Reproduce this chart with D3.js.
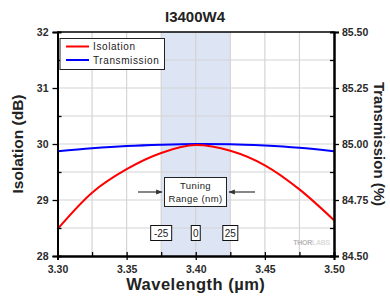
<!DOCTYPE html>
<html><head><meta charset="utf-8">
<script src="https://cdn.jsdelivr.net/npm/d3@7"></script>
<style>body{margin:0;background:#fff}svg{display:block;font-family:Arial,"Liberation Sans",sans-serif}</style>
</head><body><svg id="c" width="390" height="296"></svg>
<script>
const title = "I3400W4";
const wavelengths = [3.300,3.325,3.350,3.375,3.400,3.425,3.450,3.475,3.500];
const isolation =   [28.48,29.13,29.55,29.84,29.98,29.88,29.62,29.19,28.64];
const transmission =[84.968,84.981,84.991,84.997,85.000,84.999,84.993,84.983,84.968];
const xTicks = [3.30,3.35,3.40,3.45,3.50];
const yTicks = [28,29,30,31,32];
const y2Ticks = [84.50,84.75,85.00,85.25,85.50];
const tuningRange = [3.375,3.425];
const tuningLabels = ["-25","0","25"];
const seriesNames = ["Isolation","Transmission"];
const colors = ["#ff0000","#0000ff"];

const svg = d3.select("#c");
const L=57.5,R=334,T=32,B=256;
const x = d3.scaleLinear().domain([3.30,3.50]).range([L,R]);
const y = d3.scaleLinear().domain([28,32]).range([B,T]);
const y2 = d3.scaleLinear().domain([84.5,85.5]).range([B,T]);

svg.append("rect").attr("x",x(tuningRange[0])).attr("y",T).attr("width",x(tuningRange[1])-x(tuningRange[0])).attr("height",B-T).attr("fill","#dde4f4");

const gx = d3.range(3.325,3.5,0.025);
svg.append("g").selectAll("line").data(gx).join("line")
 .attr("x1",d=>x(d)).attr("x2",d=>x(d)).attr("y1",T).attr("y2",B).attr("stroke","#d4d4d4").attr("stroke-width",1.2);
const gy = d3.range(28.5,32,0.5);
svg.append("g").selectAll("line").data(gy).join("line")
 .attr("y1",d=>y(d)).attr("y2",d=>y(d)).attr("x1",L).attr("x2",R).attr("stroke","#d4d4d4").attr("stroke-width",1.2);

const wm = svg.append("text").attr("x",x(3.497)).attr("y",y(28.2)).attr("text-anchor","end").attr("font-size",7).attr("font-weight","bold").attr("letter-spacing","-0.3");
wm.append("tspan").attr("fill","#b8b8b8").text("THOR");
wm.append("tspan").attr("fill","#dcdcdc").text("LABS");

const line1 = d3.line().x((d,i)=>x(wavelengths[i])).y(d=>y(d)).curve(d3.curveMonotoneX);
const line2 = d3.line().x((d,i)=>x(wavelengths[i])).y(d=>y2(d)).curve(d3.curveMonotoneX);
svg.append("path").attr("d",line2(transmission)).attr("fill","none").attr("stroke",colors[1]).attr("stroke-width",2);
svg.append("path").attr("d",line1(isolation)).attr("fill","none").attr("stroke",colors[0]).attr("stroke-width",2);

svg.append("line").attr("x1",L).attr("x2",R).attr("y1",T).attr("y2",T).attr("stroke","#000").attr("stroke-width",1.5);
const tc="#2a2a2a";
const ax = svg.append("g").attr("transform",`translate(0,${B})`).call(d3.axisBottom(x).tickValues(xTicks).tickFormat(d3.format(".2f")).tickSize(4));
const axMinor = svg.append("g").attr("transform",`translate(0,${B})`).call(d3.axisBottom(x).tickValues(d3.range(3.325,3.5,0.05)).tickFormat("").tickSize(-4));
const ayl = svg.append("g").attr("transform",`translate(${L},0)`).call(d3.axisLeft(y).tickValues(yTicks).tickFormat(d3.format("d")).tickSize(5));
const aylm = svg.append("g").attr("transform",`translate(${L},0)`).call(d3.axisLeft(y).tickValues(d3.range(28.5,32,1)).tickFormat("").tickSize(-4));
const ayr = svg.append("g").attr("transform",`translate(${R},0)`).call(d3.axisRight(y2).tickValues(y2Ticks).tickFormat(d3.format(".2f")).tickSize(5));
const ayrm = svg.append("g").attr("transform",`translate(${R},0)`).call(d3.axisRight(y2).tickValues(d3.range(84.625,85.5,0.25)).tickFormat("").tickSize(-4));
[ax,axMinor,ayl,aylm,ayr,ayrm].forEach(g=>{
  g.select(".domain").attr("stroke","#000").attr("stroke-width",2);
  g.selectAll(".tick line").attr("stroke","#000").attr("stroke-width",1.3);
  g.selectAll("text").attr("font-size",10.5).attr("font-weight","bold").attr("fill",tc).attr("font-family","Arial,'Liberation Sans',sans-serif");
});
ax.selectAll("text").attr("dy","0.95em");
ayl.selectAll("text").attr("dx","-1");
ayr.selectAll("text").attr("dx","0");
ax.selectAll(".tick line").attr("y1",-4);

svg.append("text").attr("x",195).attr("y",22).attr("text-anchor","middle").attr("font-size",15).attr("font-weight","bold").attr("fill","#222").text(title);
svg.append("text").attr("transform",`translate(23,${(T+B)/2}) rotate(-90)`).attr("text-anchor","middle").attr("font-size",15.5).attr("font-weight","bold").attr("fill","#222").text("Isolation (dB)");
svg.append("text").attr("transform",`translate(374,${(T+B)/2}) rotate(90)`).attr("text-anchor","middle").attr("font-size",15).attr("font-weight","bold").attr("fill","#222").text("Transmission (%)");
svg.append("text").attr("x",(L+R)/2).attr("y",290).attr("text-anchor","middle").attr("font-size",16.5).attr("font-weight","bold").attr("fill","#222").attr("letter-spacing","0.5").text("Wavelength (µm)");

svg.append("rect").attr("x",60).attr("y",38.5).attr("width",104.5).attr("height",31).attr("fill","#fff").attr("stroke","#222").attr("stroke-width",1);
seriesNames.forEach((n,i)=>{
  const yy=46.5+i*13.5;
  svg.append("line").attr("x1",66).attr("x2",89).attr("y1",yy).attr("y2",yy).attr("stroke",colors[i]).attr("stroke-width",2);
  svg.append("text").attr("x",93).attr("y",yy+3.5).attr("font-size",10).attr("fill","#222").attr("letter-spacing","0.6").text(n);
});

const ann = svg.append("g");
ann.append("rect").attr("x",164.5).attr("y",177.5).attr("width",62).attr("height",29).attr("fill","#fff").attr("stroke","#222");
ann.append("text").attr("x",195.5).attr("y",189).attr("text-anchor","middle").attr("font-size",9.5).attr("fill","#222").attr("letter-spacing","0.4").text("Tuning");
ann.append("text").attr("x",195.5).attr("y",202).attr("text-anchor","middle").attr("font-size",9.5).attr("fill","#222").attr("letter-spacing","0.4").text("Range (nm)");
svg.append("defs").append("marker").attr("id","ah").attr("viewBox","0 0 10 10").attr("refX",9).attr("refY",5).attr("markerWidth",5).attr("markerHeight",5).attr("orient","auto")
 .append("path").attr("d","M0,1 L10,5 L0,9 Z").attr("fill","#333");
ann.append("line").attr("x1",138).attr("x2",162).attr("y1",192).attr("y2",192).attr("stroke","#444").attr("stroke-width",1.3).attr("marker-end","url(#ah)");
ann.append("line").attr("x1",255).attr("x2",229).attr("y1",192).attr("y2",192).attr("stroke","#444").attr("stroke-width",1.3).attr("marker-end","url(#ah)");
const lx=[x(tuningRange[0]),x((tuningRange[0]+tuningRange[1])/2),x(tuningRange[1])];
tuningLabels.forEach((t,i)=>{
  const tw = t.length*6+3;
  const cx = lx[i];
  const g=svg.append("g");
  g.append("rect").attr("x",cx-tw/2).attr("y",225.5).attr("width",tw).attr("height",15).attr("fill","#fff").attr("stroke","#111");
  g.append("text").attr("x",cx).attr("y",237).attr("text-anchor","middle").attr("font-size",10).attr("fill","#222").text(t);
});
</script></body></html>
